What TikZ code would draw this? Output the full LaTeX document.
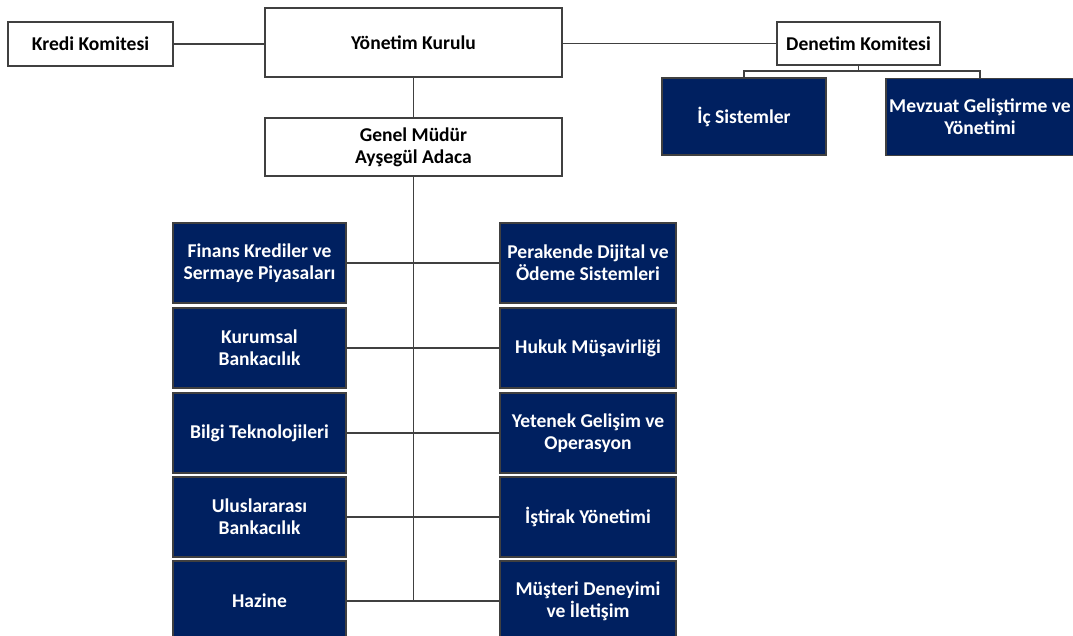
\documentclass[tikz,border=0pt]{standalone}
\usepackage{fontspec}
\setmainfont{Carlito}
\usepackage{xcolor}
\usepackage{tikz}
\usetikzlibrary{positioning}
\definecolor{bankNavy}{RGB}{0, 32, 96}
\definecolor{lineGray}{RGB}{64, 64, 64}
\newcommand{\boxfont}{\fontsize{13.9}{15.8}\selectfont\bfseries}

\tikzset{
  board/.style={draw=lineGray, line width=0.9pt, fill=white, font=\boxfont, align=center, inner sep=0pt},
  unit/.style={draw=black!75, line width=0.9pt, fill=bankNavy, text=white, font=\boxfont, align=center, inner sep=0pt, minimum height=2cm},
  link/.style={lineGray, line width=0.9pt}
}

\begin{document}
\begin{tikzpicture}
\useasboundingbox (0,0) rectangle (26.825,15.875);

% Board level
\node[board, minimum width=4.125cm, minimum height=1.1cm] (kredi) at (2.2625,14.775) {Kredi Komitesi};
\node[board, minimum width=7.425cm, minimum height=1.725cm] (yonetim) at (10.3375,14.8125) {Yönetim Kurulu};
\node[board, minimum width=4.075cm, minimum height=1.075cm] (denetim) at (21.4625,14.7875) {Denetim Komitesi};
\node[board, minimum width=7.425cm, minimum height=1.45cm] (genel) at (10.3375,12.2) {Genel Müdür\\Ayşegül Adaca};

% Audit units
\node[unit, minimum width=4.1cm, minimum height=1.925cm] (ic) at (18.6,12.9625) {İç Sistemler};
\node[unit, minimum width=4.7cm, minimum height=1.925cm] (mevzuat) at (24.5,12.95) {Mevzuat Geliştirme ve\\Yönetimi};

% Left column
\node[unit, minimum width=4.325cm] (finans) at (6.4875,9.3) {Finans Krediler ve\\Sermaye Piyasaları};
\node[unit, minimum width=4.325cm] (kurumsal) at (6.4875,7.175) {Kurumsal\\Bankacılık};
\node[unit, minimum width=4.325cm] (bilgi) at (6.4875,5.05) {Bilgi Teknolojileri};
\node[unit, minimum width=4.325cm] (ulus) at (6.4875,2.95) {Uluslararası\\Bankacılık};
\node[unit, minimum width=4.325cm] (hazine) at (6.4875,0.85) {Hazine};

% Right column
\node[unit, minimum width=4.4cm] (perakende) at (14.7,9.3) {Perakende Dijital ve\\Ödeme Sistemleri};
\node[unit, minimum width=4.4cm] (hukuk) at (14.7,7.175) {Hukuk Müşavirliği};
\node[unit, minimum width=4.4cm] (yetenek) at (14.7,5.05) {Yetenek Gelişim ve\\Operasyon};
\node[unit, minimum width=4.4cm] (istirak) at (14.7,2.95) {İştirak Yönetimi};
\node[unit, minimum width=4.4cm] (musteri) at (14.7,0.85) {Müşteri Deneyimi\\ve İletişim};

% Connections
\draw[link] (kredi.east) -- (kredi.east -| yonetim.west);
\draw[link] (yonetim.east |- denetim.west) -- (denetim.west);
\draw[link] (yonetim.south) -- (genel.north);
\coordinate (split) at (denetim.south |- 0,14.1);
\draw[link] (denetim.south) -- (split) -| (ic.north);
\draw[link] (split) -| (mevzuat.north);
\draw[link] (genel.south) -- (genel.south |- hazine.east);
\draw[link] (finans.east) -- (perakende.west);
\draw[link] (kurumsal.east) -- (hukuk.west);
\draw[link] (bilgi.east) -- (yetenek.west);
\draw[link] (ulus.east) -- (istirak.west);
\draw[link] (hazine.east) -- (musteri.west);
\end{tikzpicture}
\end{document}
